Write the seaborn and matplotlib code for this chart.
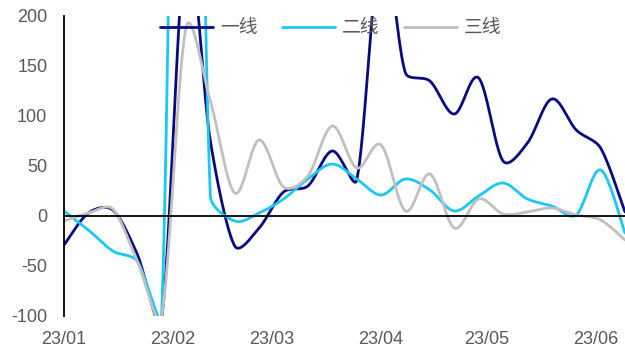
import numpy as np
import pandas as pd
import matplotlib
matplotlib.use("Agg")
import matplotlib.pyplot as plt
import matplotlib.transforms as mtransforms
import seaborn as sns

# ---------------- datos (semanal) ----------------
semanas = list(range(24))
linea_1 = [-29, 3, 6, -38, -103, 270, 75, -30, -12, 24, 30, 65, 36, 270,
           143, 135, 102, 138, 55, 73, 117, 86, 68, 4]
linea_2 = [5, -14, -35, -45, -100, 1100, 20, -5, 3, 17, 37, 52, 37, 21,
           37, 26, 5, 20, 33, 17, 10, 1, 46, -17]
linea_3 = [-5, 3, 7, -45, -100, 188, 115, 23, 76, 29, 40, 90, 48, 71,
           5, 42, -12, 17, 2, 4, 8, 1, -4, -24]
nombres = ['一线', '二线', '三线']
colores = ['#0A0A80', '#19C8F5', '#C0C0C0']

meses = ['23/01', '23/02', '23/03', '23/04', '23/05', '23/06']
pos_meses = [0, 4.47, 8.52, 12.97, 17.31, 21.8]


def suavizar(xs, ys, sx=24.4, sy=1.0, n=40):
    '''Curva suavizada tipo Excel (Bezier) trazada en espacio de pixeles.'''
    P = np.column_stack([np.asarray(xs, float) * sx, np.asarray(ys, float) * sy])
    m = len(P)
    t = np.linspace(0, 1, n)[1:, None]
    out = [P[0:1]]
    for i in range(m - 1):
        p0 = P[i - 1] if i > 0 else P[i]
        p1, p2 = P[i], P[i + 1]
        p3 = P[i + 2] if i + 2 < m else P[i + 1]
        d12 = np.linalg.norm(p2 - p1)
        d02 = np.linalg.norm(p2 - p0)
        d13 = np.linalg.norm(p3 - p1)
        f1 = min(1 / 6, d12 / (3 * d02)) if d02 > 0 else 0
        f2 = min(1 / 6, d12 / (3 * d13)) if d13 > 0 else 0
        c1 = p1 + (p2 - p0) * f1
        c2 = p2 - (p3 - p1) * f2
        seg = ((1 - t) ** 3) * p1 + 3 * ((1 - t) ** 2) * t * c1 + 3 * (1 - t) * t ** 2 * c2 + t ** 3 * p2
        out.append(seg)
    pts = np.vstack(out)
    return pts[:, 0] / sx, pts[:, 1] / sy


# Se arma el DataFrame largo con las curvas suavizadas
filas = []
for nombre, serie in zip(nombres, [linea_1, linea_2, linea_3]):
    cx, cy = suavizar(semanas, serie)
    filas.append(pd.DataFrame({'x': cx, 'y': cy, 'serie': nombre}))
df = pd.concat(filas, ignore_index=True)

# ---------------- grafico ----------------
sns.set_style('white')
plt.rcParams['font.family'] = ['Liberation Sans', 'Noto Sans CJK SC', 'DejaVu Sans']
plt.rcParams['axes.unicode_minus'] = False

fig = plt.figure(figsize=(6.25, 3.56), dpi=100)
ax = fig.add_axes([0.1024, 0.1124, 0.8976, 0.8427])

sns.lineplot(data=df, x='x', y='y', hue='serie', hue_order=nombres, palette=colores,
             sort=False, estimator=None, linewidth=2.0, ax=ax)

ax.set_xlim(0, 23)
ax.set_ylim(-100, 200)
ax.set_yticks([-100, -50, 0, 50, 100, 150, 200])
ax.set_xticks(pos_meses[1:])
ax.set_xlabel('')
ax.set_ylabel('')

# Ejes: eje x en y=0, etiquetas abajo
for lado in ['top', 'right']:
    ax.spines[lado].set_visible(False)
ax.spines['bottom'].set_position(('data', 0))
ax.spines['bottom'].set_color('black')
ax.spines['left'].set_color('black')
ax.spines['bottom'].set_linewidth(1.3)
ax.spines['left'].set_linewidth(1.3)
ax.tick_params(axis='x', direction='out', length=4, width=1.3, color='black', labelbottom=False)
ax.tick_params(axis='y', direction='out', length=3, width=1.3, color='black',
               labelsize=13, labelcolor='#595959', pad=9)
ax.grid(False)

trans = mtransforms.blended_transform_factory(ax.transData, ax.transAxes)
for p, m in zip(pos_meses, meses):
    ax.text(p, -0.08, m, transform=trans, ha='center', va='center',
            fontsize=13, color='#595959')

handles, labels = ax.get_legend_handles_labels()
leg = ax.legend(handles, labels, loc='center', bbox_to_anchor=(0.476, 0.957), ncol=3,
                frameon=False, fontsize=13.5, handlelength=2.8, handletextpad=0.4,
                columnspacing=1.3, borderpad=0)
for txt in leg.get_texts():
    txt.set_color('#595959')

fig.savefig('out.png', dpi=100)
